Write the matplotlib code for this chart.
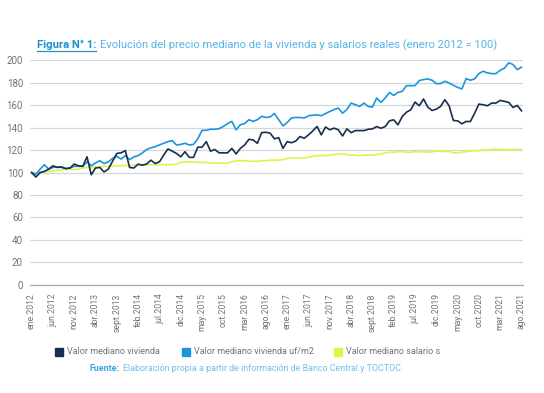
"""Evolución del precio mediano de la vivienda y salarios reales (ene 2012 = 100)"""

import matplotlib
matplotlib.use("Agg")
import matplotlib.pyplot as plt
from matplotlib.lines import Line2D
from matplotlib.patches import Rectangle

###############################################################################
# data (monthly index, ene.2012 = 100)
###############################################################################
vivienda = [
    100, 96, 100, 101, 103, 106, 104.5, 105, 103.5, 104,
    107.5, 106, 105.5, 114, 98, 104, 104.5, 100.5, 103, 110,
    117, 117.5, 119.5, 104.5, 104, 107.5, 106.5, 107.5, 111, 108,
    109.5, 115.5, 121, 119, 117, 114, 118.5, 113.5, 113.5, 122.5,
    122.5, 127.5, 119, 120.5, 117.5, 117.5, 117.5, 121.5, 116.5, 121.5,
    124.5, 129.5, 129, 126, 135.5, 135.8, 135, 130, 131, 121.5,
    127.5, 126.5, 128, 132, 130.5, 133.5, 137, 141, 133.5, 140.5,
    138, 139.5, 138, 132.5, 138.8, 135.5, 137.3, 137.3, 137.3, 138.5,
    138.8, 140.9, 139.4, 140.9, 146, 146.9, 142.4, 149.8, 153.7, 155.8,
    162.7, 159.4, 165.4, 158.2, 155.2, 156.4, 158.8, 164.8, 159.4, 146.3,
    146, 143.3, 145.4, 145.4, 152.8, 160.9, 160.3, 159.4, 161.8, 161.8,
    164.2, 163.3, 162.4, 157.9, 159.7, 154.9,
]

vivienda_uf_m2 = [
    100, 98.5, 103, 107, 103, 104.5, 105, 104.5, 103.5, 104,
    105.5, 105.5, 105.5, 109.5, 106, 108.5, 110.5, 108, 109.5, 112.5,
    114.5, 112, 115, 111.5, 114, 115, 117.5, 120.5, 122, 123,
    124.5, 126, 127.5, 128.5, 124.5, 125, 126, 124.5, 125, 130,
    137.5, 137.5, 138.5, 138.5, 139, 141, 143.5, 145.5, 138, 142.5,
    143.5, 147, 145.5, 147, 150, 149, 149.5, 152.5, 147, 141.5,
    144.5, 148.5, 149, 149, 148.5, 150.5, 151, 151.3, 150.5, 152.5,
    154.3, 156, 157.3, 152.8, 156, 161.8, 160.3, 158.8, 161.8, 158.8,
    158.2, 166.3, 162.4, 166.3, 171.3, 168.6, 171.3, 172.2, 177.3, 177.3,
    177.3, 181.8, 182.7, 183.3, 182.1, 179.1, 179.1, 181.2, 179.7, 177.6,
    175.8, 174.3, 183.6, 182.1, 183.3, 188.1, 190.1, 188.6, 188, 188,
    191, 192.8, 197.6, 196.1, 191.6, 193.7,
]

salarios = [
    100, 99.5, 100, 100.5, 101, 101.5, 102, 102.5, 103, 103,
    102.5, 103, 104, 104.5, 104.5, 105, 105, 105.5, 105.5, 106,
    106, 106, 106.5, 106, 106.5, 107, 107, 107, 107, 107,
    107, 107, 107, 107, 107.5, 109, 109.5, 109.5, 109.5, 109,
    109, 109, 108.5, 108.5, 108.5, 108.5, 108.5, 109.5, 110.5, 110.5,
    110.5, 110, 110, 110, 110.5, 110.5, 111, 111, 111, 111.5,
    112.5, 113, 113, 113, 113, 113.5, 114.5, 115, 115, 115,
    115.5, 116, 116.5, 116.5, 116, 115.5, 115.5, 115, 115.5, 115.5,
    115.5, 116, 116.5, 117.5, 118, 118, 118.5, 118.5, 118, 118,
    118.5, 118.5, 118.5, 118, 118.5, 119, 119, 118.5, 119, 117.5,
    117.5, 118, 118.5, 119, 119.5, 119.5, 120, 120, 120.5, 121,
    120.5, 120.5, 120, 120.5, 120.5, 120.5,
]

tick_labels = [
    "ene.2012", "jun.2012", "nov.2012", "abr.2013", "sept.2013", "feb.2014",
    "jul.2014", "dic.2014", "may.2015", "oct.2015", "mar.2016", "ago.2016",
    "ene.2017", "jun.2017", "nov.2017", "abr.2018", "sept.2018", "feb.2019",
    "jul.2019", "dic.2019", "may.2020", "oct.2020", "mar.2021", "ago.2021",
]

series_names = ["Valor mediano vivienda", "Valor mediano vivienda uf/m2",
                "Valor mediano salario s"]

###############################################################################
# plot
###############################################################################
c_dark = "#17304f"
c_blue = "#1b95dc"
c_yellow = "#e1f24a"
c_grid = "#d3d7de"
c_text = "#6f737a"

plt.rcParams["font.family"] = ["Roboto", "DejaVu Sans"]

W, H = 544, 393
fig = plt.figure(figsize=(W / 100, H / 100), dpi=100)
ax = fig.add_axes([0.055, 0.275, 0.906, 0.572])

months = list(range(len(vivienda)))
ax.plot(months, salarios, color=c_yellow, lw=1.2, zorder=3)
ax.plot(months, vivienda_uf_m2, color=c_blue, lw=1.2, zorder=4)
ax.plot(months, vivienda, color=c_dark, lw=1.2, zorder=5)

ax.set_ylim(0, 200)
ax.set_xlim(-0.4, 115.3)
ax.set_yticks(range(0, 201, 20))
ax.set_xticks(months[::5])
ax.set_xticklabels(tick_labels, rotation=90, fontsize=6.2, color=c_text)
ax.tick_params(axis="y", labelsize=7, colors=c_text, length=0, pad=5)
ax.tick_params(axis="x", length=0, pad=6)
ax.grid(axis="y", color=c_grid, lw=0.9)
ax.set_axisbelow(True)
for side in ["top", "right", "left"]:
    ax.spines[side].set_visible(False)
ax.spines["bottom"].set_color("#a8adb5")
ax.spines["bottom"].set_linewidth(0.9)

# legend: square marker + label, placed like the reference
colors = [c_dark, c_blue, c_yellow]
legend_x = [55, 182, 334]
for x, c, name in zip(legend_x, colors, series_names):
    fig.add_artist(Rectangle((x / W, 1 - 356 / H), 8 / W, 8 / H,
                             color=c, transform=fig.transFigure))
    fig.text((x + 12) / W, 1 - 352 / H, name, fontsize=6.5, color=c_text,
             va="center")

# title: bold underlined part + regular part
t1 = fig.text(37 / W, 1 - 48 / H, "Figura N° 1:", fontsize=8.1,
              weight="bold", color="#1e8fd0", va="baseline")
fig.canvas.draw()
r = fig.canvas.get_renderer()
bb = t1.get_window_extent(r).transformed(fig.transFigure.inverted())
fig.add_artist(Line2D([bb.x0, bb.x1], [1 - 50.5 / H, 1 - 50.5 / H],
                      color="#1e8fd0", lw=0.9, transform=fig.transFigure))
fig.text(bb.x1 + 0.006, 1 - 48 / H,
         "Evolución del precio mediano de la vivienda y salarios reales "
         "(enero 2012 = 100)", fontsize=8.1, color="#55b4e6", va="baseline")

# source line
s1 = fig.text(90 / W, 1 - 371 / H, "Fuente:", fontsize=6.4, weight="bold",
              color="#3aa4e0", va="baseline")
fig.canvas.draw()
bb = s1.get_window_extent(r).transformed(fig.transFigure.inverted())
fig.text(bb.x1 + 0.005, 1 - 371 / H,
         "Elaboración propia a partir de información de Banco Central y TOCTOC.",
         fontsize=6.4, color="#6cc0ec", va="baseline")

fig.savefig("out.png", dpi=100)
